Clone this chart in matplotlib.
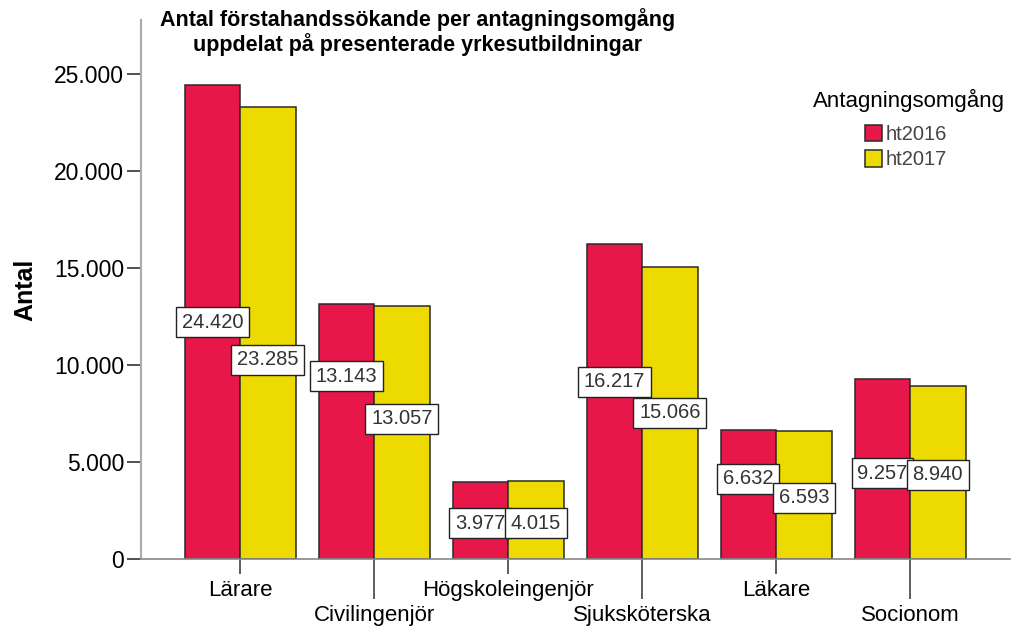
import numpy as np
import matplotlib.pyplot as plt
from matplotlib.ticker import FuncFormatter

plt.rcParams['font.family'] = ['Liberation Sans', 'DejaVu Sans']

categories = ['Lärare', 'Civilingenjör', 'Högskoleingenjör',
              'Sjuksköterska', 'Läkare', 'Socionom']
ht2016 = [24420, 13143, 3977, 16217, 6632, 9257]
ht2017 = [23285, 13057, 4015, 15066, 6593, 8940]
series_names = ['ht2016', 'ht2017']

# where SPSS put the value boxes (it shifts them to avoid overlaps)
label_pos_2016 = [12200, 9418, 1840, 9139, 4124, 4418]
label_pos_2017 = [10258, 7216, 1840, 7541, 3160, 4330]

red = '#e8174a'
yellow = '#ecda00'

def fmt(v, pos=None):
    return f"{int(v):,}".replace(",", ".")

W, H = 1016, 628
fig = plt.figure(figsize=(W / 100, H / 100), dpi=100)
ax = fig.add_axes([141 / W, 1 - 559 / H, (1010 - 141) / W, (559 - 20) / H])

x = np.arange(len(categories))
w = 0.414
ax.bar(x - w / 2, ht2016, w, color=red, edgecolor='#2a2a2a', linewidth=1.1, label=series_names[0], zorder=2)
ax.bar(x + w / 2, ht2017, w, color=yellow, edgecolor='#2a2a2a', linewidth=1.1, label=series_names[1], zorder=2)

box = dict(boxstyle='square,pad=0.28', facecolor='white', edgecolor='#222222', linewidth=1)
for i in range(len(categories)):
    ax.text(x[i] - w / 2, label_pos_2016[i], fmt(ht2016[i]), ha='center', va='center',
            fontsize=14.5, color='#333333', bbox=box, zorder=3)
    ax.text(x[i] + w / 2, label_pos_2017[i], fmt(ht2017[i]), ha='center', va='center',
            fontsize=14.5, color='#333333', bbox=box, zorder=3)

ax.set_xlim(-0.739, 5.746)
ax.set_ylim(0, 27780)
ax.set_yticks([0, 5000, 10000, 15000, 20000, 25000])
ax.yaxis.set_major_formatter(FuncFormatter(fmt))
ax.tick_params(axis='y', labelsize=16.5, length=10, width=1.2, color='#333333', pad=2)

# alternate labels: short ticks for even, long ticks for odd categories
ax.set_xticks(x[0::2])
ax.set_xticklabels(categories[0::2])
ax.set_xticks(x[1::2], minor=True)
ax.set_xticklabels(categories[1::2], minor=True)
ax.tick_params(axis='x', which='major', labelsize=16, length=11, width=1.2, color='#444444', pad=4)
ax.tick_params(axis='x', which='minor', labelsize=16, length=29, width=1.2, color='#444444', pad=4)

for s in ['top', 'right']:
    ax.spines[s].set_visible(False)
ax.spines['left'].set_color('#aaaaaa')
ax.spines['left'].set_linewidth(1.5)
ax.spines['bottom'].set_color('#888888')
ax.spines['bottom'].set_linewidth(1.2)

ax.set_ylabel('Antal', fontsize=18, fontweight='bold', labelpad=12)

fig.text(418 / W, 1 - 8 / H, 'Antal förstahandssökande per antagningsomgång\nuppdelat på presenterade yrkesutbildningar',
         ha='center', va='top', fontsize=15.5, fontweight='bold', linespacing=1.1)

fig.text(909 / W, 1 - 100 / H, 'Antagningsomgång', ha='center', va='center', fontsize=16)
leg = fig.legend(loc='upper left', bbox_to_anchor=(865 / W, 1 - 125 / H),
                 frameon=False, fontsize=14.5, handlelength=0.85, handleheight=0.85,
                 handletextpad=0.15, labelspacing=0.32, borderaxespad=0, borderpad=0)
for t in leg.get_texts():
    t.set_color('#444444')

fig.savefig('out.png', dpi=100)
